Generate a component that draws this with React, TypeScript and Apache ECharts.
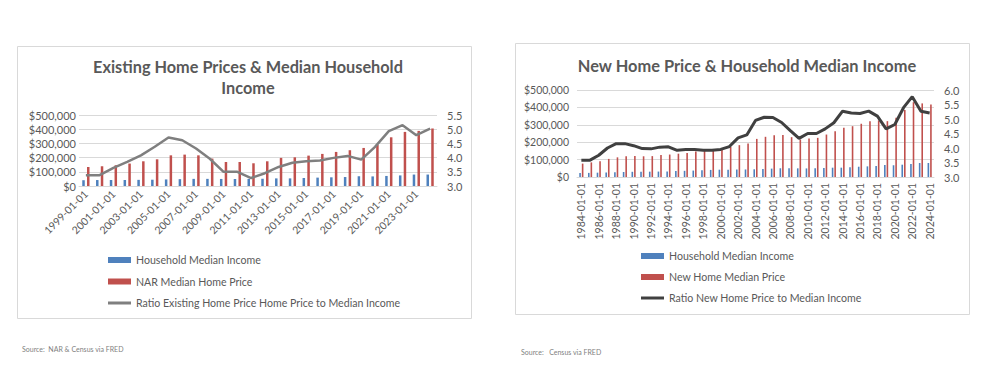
import React, { useEffect, useRef } from "react";
import * as echarts from "echarts";

// ---------- Left chart: Existing home prices ----------
const existingDates = [
  "1999-01-01", "2000-01-01", "2001-01-01", "2002-01-01", "2003-01-01", "2004-01-01",
  "2005-01-01", "2006-01-01", "2007-01-01", "2008-01-01", "2009-01-01", "2010-01-01",
  "2011-01-01", "2012-01-01", "2013-01-01", "2014-01-01", "2015-01-01", "2016-01-01",
  "2017-01-01", "2018-01-01", "2019-01-01", "2020-01-01", "2021-01-01", "2022-01-01",
  "2023-01-01", "2024-01-01",
];
const existingIncome = [
  40696, 41990, 42228, 42409, 43318, 44334, 46326, 48201, 50233, 50303, 49777, 49276,
  50054, 51017, 53585, 53657, 56516, 59039, 61136, 63179, 68703, 67521, 70784, 74580,
  80610, 80610,
];
const narPrice = [
  134000, 139000, 146000, 158000, 174000, 188000, 216000, 221000, 216000, 193000, 169000, 169000,
  160000, 174000, 198000, 202000, 214000, 226000, 240000, 252000, 268000, 290000, 343000, 381000,
  388000, 405000,
];
const existingRatio = [
  3.38, 3.38, 3.64, 3.85, 4.08, 4.38, 4.71, 4.61, 4.32, 3.96, 3.5, 3.5,
  3.28, 3.45, 3.67, 3.82, 3.87, 3.9, 3.99, 4.06, 3.93, 4.38, 4.93, 5.14,
  4.79, 5.02,
];

// ---------- Right chart: New home prices ----------
const newDates = [
  "1984-01-01", "1985-01-01", "1986-01-01", "1987-01-01", "1988-01-01", "1989-01-01",
  "1990-01-01", "1991-01-01", "1992-01-01", "1993-01-01", "1994-01-01", "1995-01-01",
  "1996-01-01", "1997-01-01", "1998-01-01", "1999-01-01", "2000-01-01", "2001-01-01",
  "2002-01-01", "2003-01-01", "2004-01-01", "2005-01-01", "2006-01-01", "2007-01-01",
  "2008-01-01", "2009-01-01", "2010-01-01", "2011-01-01", "2012-01-01", "2013-01-01",
  "2014-01-01", "2015-01-01", "2016-01-01", "2017-01-01", "2018-01-01", "2019-01-01",
  "2020-01-01", "2021-01-01", "2022-01-01", "2023-01-01", "2024-01-01",
];
const newIncome = [
  22415, 23618, 24897, 26061, 27225, 28906, 29943, 30126, 30636, 31241, 32264, 34076,
  35492, 37005, 38885, 40696, 41990, 42228, 42409, 43318, 44334, 46326, 48201, 50233,
  50303, 49777, 49276, 50054, 51017, 53585, 53657, 56516, 59039, 61136, 63179, 68703,
  67521, 70784, 74580, 80610, 80610,
];
const newPrice = [
  77000, 84000, 90000, 104000, 113000, 119000, 121000, 119000, 120000, 126000, 129000, 134000,
  138000, 146000, 150000, 155000, 162000, 173000, 183000, 192000, 219000, 231000, 240000, 242000,
  229000, 215000, 221000, 225000, 244000, 263000, 283000, 292000, 306000, 321000, 325000, 321000,
  340000, 385000, 430000, 423000, 417000,
];
const newRatio = [
  3.58, 3.58, 3.75, 4.0, 4.15, 4.15, 4.08, 3.98, 3.97, 4.03, 4.04, 3.92,
  3.95, 3.95, 3.92, 3.92, 3.95, 4.05, 4.35, 4.45, 4.95, 5.06, 5.05, 4.88,
  4.6, 4.33, 4.5, 4.5, 4.66, 4.87, 5.27, 5.21, 5.19, 5.27, 5.1, 4.66,
  4.81, 5.39, 5.77, 5.27, 5.21,
];

const FONT = "Lato, 'Open Sans', sans-serif";
const TXT = "#595959";
const GRID = "#d9d9d9";
const BLUE = "#4f81bd";
const RED = "#c0504d";
const LINE_ICON = "path://M0,0H23V3H0Z";

const moneyFmt = (v: number) => "$" + v.toLocaleString("en-US");

export default function App() {
  const ref = useRef<HTMLDivElement>(null);
  useEffect(() => {
    if (!ref.current) return;
    const chart = echarts.init(ref.current, undefined, { renderer: "svg" });
    const valAxisLeft = (gridIndex: number, fs: number, margin: number) => ({
      type: "value",
      gridIndex,
      min: 0,
      max: 500000,
      interval: 100000,
      axisLine: { show: false },
      axisTick: { show: false },
      splitLine: { lineStyle: { color: GRID, width: 1 } },
      axisLabel: { formatter: moneyFmt, color: TXT, fontFamily: FONT, fontSize: fs, margin },
    });
    const ratioAxis = (gridIndex: number, max: number) => ({
      type: "value",
      gridIndex,
      position: "right",
      min: 3,
      max,
      interval: 0.5,
      axisLine: { show: false },
      axisTick: { show: false },
      splitLine: { show: false },
      axisLabel: {
        formatter: (v: number) => v.toFixed(1),
        color: TXT,
        fontFamily: FONT,
        fontSize: 11,
        margin: 10,
      },
    });
    const catAxis = (gridIndex: number, data: string[], rotate: number) => ({
      type: "category",
      gridIndex,
      data,
      boundaryGap: true,
      axisLine: { lineStyle: { color: GRID } },
      axisTick: { interval: 1, length: 4, lineStyle: { color: GRID } },
      axisLabel: {
        interval: 1,
        rotate,
        color: TXT,
        fontFamily: FONT,
        fontSize: 10.5,
        margin: 6,
      },
    });

    chart.setOption({
      animation: false,
      backgroundColor: "#ffffff",
      textStyle: { fontFamily: FONT },
      title: [
        {
          text: "Existing Home Prices & Median Household\nIncome",
          left: 243,
          top: 51,
          textAlign: "center",
          textStyle: { fontFamily: FONT, fontSize: 16.3, fontWeight: "bold", color: TXT, lineHeight: 21 },
        },
        {
          text: "New Home Price & Household Median Income",
          left: 742,
          top: 52,
          textAlign: "center",
          textStyle: { fontFamily: FONT, fontSize: 16.4, fontWeight: "bold", color: TXT },
        },
      ],
      legend: [
        {
          orient: "vertical",
          left: 103,
          top: 248,
          itemWidth: 23,
          itemHeight: 6,
          itemGap: 7.5,
          symbolKeepAspect: true,
          textStyle: { color: TXT, fontFamily: FONT, fontSize: 10.6, lineHeight: 14 },
          data: [
            { name: "Household Median Income", icon: "rect" },
            { name: "NAR Median Home Price", icon: "rect" },
            { name: "Ratio Existing Home Price Home Price to Median Income", icon: LINE_ICON },
          ],
        },
        {
          orient: "vertical",
          left: 636,
          top: 244,
          itemWidth: 23,
          itemHeight: 6,
          itemGap: 7,
          symbolKeepAspect: true,
          textStyle: { color: TXT, fontFamily: FONT, fontSize: 10.6, lineHeight: 14 },
          data: [
            { name: "Household Median Income ", icon: "rect" },
            { name: "New Home Median Price", icon: "rect" },
            { name: "Ratio New Home Price to Median Income", icon: LINE_ICON },
          ],
        },
      ],
      grid: [
        { left: 79, top: 115, width: 358, height: 71 },
        { left: 577, top: 90, width: 357, height: 87 },
      ],
      xAxis: [catAxis(0, existingDates, 45), catAxis(1, newDates, 90)],
      yAxis: [valAxisLeft(0, 11, 3), ratioAxis(0, 5.5), valAxisLeft(1, 10.5, 8), ratioAxis(1, 6)],
      series: [
        {
          name: "Household Median Income",
          type: "bar",
          xAxisIndex: 0,
          yAxisIndex: 0,
          data: existingIncome,
          barWidth: 2.5,
          barGap: "90%",
          itemStyle: { color: BLUE },
        },
        {
          name: "NAR Median Home Price",
          type: "bar",
          xAxisIndex: 0,
          yAxisIndex: 0,
          data: narPrice,
          barWidth: 2.5,
          barGap: "90%",
          itemStyle: { color: RED },
        },
        {
          name: "Ratio Existing Home Price Home Price to Median Income",
          type: "line",
          xAxisIndex: 0,
          yAxisIndex: 1,
          data: existingRatio,
          symbol: "none",
          lineStyle: { color: "#7f7f7f", width: 2.5 },
          itemStyle: { color: "#7f7f7f" },
          z: 5,
        },
        {
          name: "Household Median Income ",
          type: "bar",
          xAxisIndex: 1,
          yAxisIndex: 2,
          data: newIncome,
          barWidth: 1.6,
          barGap: "60%",
          itemStyle: { color: BLUE },
        },
        {
          name: "New Home Median Price",
          type: "bar",
          xAxisIndex: 1,
          yAxisIndex: 2,
          data: newPrice,
          barWidth: 1.6,
          barGap: "60%",
          itemStyle: { color: RED },
        },
        {
          name: "Ratio New Home Price to Median Income",
          type: "line",
          xAxisIndex: 1,
          yAxisIndex: 3,
          data: newRatio,
          symbol: "none",
          lineStyle: { color: "#404040", width: 3 },
          itemStyle: { color: "#404040" },
          z: 5,
        },
      ],
      graphic: [
        {
          type: "rect",
          shape: { x: 17.5, y: 46.5, width: 454, height: 272 },
          style: { fill: "none", stroke: GRID, lineWidth: 1 },
          silent: true,
          z: -1,
        },
        {
          type: "rect",
          shape: { x: 515.5, y: 43.5, width: 454, height: 271 },
          style: { fill: "none", stroke: GRID, lineWidth: 1 },
          silent: true,
          z: -1,
        },
        {
          type: "text",
          x: 22,
          y: 345,
          style: { text: "Source:  NAR & Census via FRED", fill: "#7f7f7f", font: `7px ${FONT}` },
        },
        {
          type: "text",
          x: 521,
          y: 348,
          style: { text: "Source:   Census via FRED", fill: "#7f7f7f", font: `7px ${FONT}` },
        },
      ],
    });
    return () => chart.dispose();
  }, []);
  return (
    <div
      ref={ref}
      style={{ position: "fixed", left: 0, top: 0, width: 1000, height: 381, background: "#fff" }}
    />
  );
}
